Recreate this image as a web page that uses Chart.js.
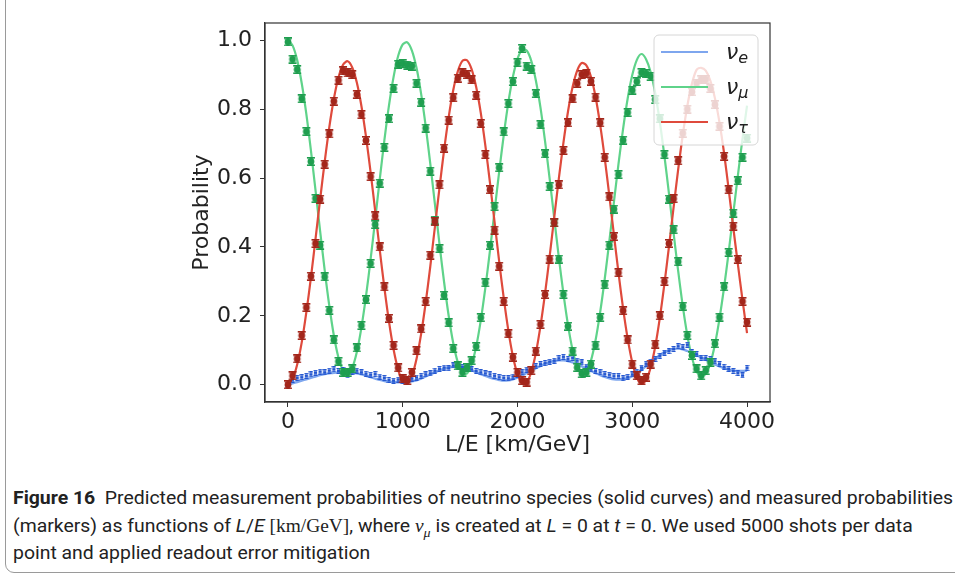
<!DOCTYPE html>
<html>
<head>
<meta charset="utf-8">
<script src="https://cdn.jsdelivr.net/npm/chart.js@4.4.1/dist/chart.umd.min.js"></script>
<style>
  body { margin: 0; background: #fff; width: 955px; height: 579px; overflow: hidden; position: relative; }
  #frame { position: absolute; left: 5px; top: -10px; width: 1000px; height: 583px; border: 1px solid #9a9a9a; border-radius: 9px; box-sizing: border-box; }
  #chart { position: absolute; left: 0; top: 0; }
  .cap { position: absolute; left: 13px; white-space: nowrap; font-family: "Liberation Sans Narrow", Roboto, sans-serif; font-size: 18px; color: #222; transform-origin: 0 50%; line-height: 26px; }
  .cap b { font-weight: 700; }
  .serif { font-family: "Liberation Serif", serif; }
</style>
</head>
<body>
<div id="frame"></div>
<canvas id="chart" width="955" height="470"></canvas>
<div class="cap" style="top:485px"><b>Figure 16</b>&nbsp; Predicted measurement probabilities of neutrino species (solid curves) and measured probabilities</div>
<div class="cap" style="top:513px">(markers) as functions of <i>L</i>/<i>E</i> <span class="serif">[km/GeV]</span>, where <span class="serif"><i>ν</i><sub style="font-size:13px"><i>μ</i></sub></span> is created at <i>L</i> = 0 at <i>t</i> = 0. We used 5000 shots per data</div>
<div class="cap" style="top:540px">point and applied readout error mitigation</div>
<script>
// L/E values [km/GeV]
const lE = [0,40,80,120,160,200,240,280,320,360,400,440,480,520,560,600,640,680,720,760,800,840,880,920,960,1000,1040,1080,1120,1160,1200,1240,1280,1320,1360,1400,1440,1480,1520,1560,1600,1640,1680,1720,1760,1800,1840,1880,1920,1960,2000,2040,2080,2120,2160,2200,2240,2280,2320,2360,2400,2440,2480,2520,2560,2600,2640,2680,2720,2760,2800,2840,2880,2920,2960,3000,3040,3080,3120,3160,3200,3240,3280,3320,3360,3400,3440,3480,3520,3560,3600,3640,3680,3720,3760,3800,3840,3880,3920,3960,4000];

// predicted curves
const pECurve = [0.000,0.004,0.008,0.012,0.016,0.020,0.024,0.028,0.031,0.033,0.035,0.036,0.036,0.036,0.035,0.033,0.030,0.026,0.022,0.018,0.014,0.011,0.009,0.008,0.007,0.007,0.008,0.010,0.013,0.018,0.024,0.030,0.036,0.042,0.047,0.050,0.052,0.052,0.051,0.047,0.042,0.037,0.031,0.026,0.021,0.017,0.014,0.012,0.013,0.016,0.021,0.027,0.034,0.041,0.048,0.055,0.061,0.066,0.069,0.071,0.071,0.069,0.065,0.060,0.054,0.047,0.040,0.034,0.028,0.023,0.019,0.016,0.015,0.016,0.019,0.025,0.033,0.043,0.054,0.065,0.076,0.086,0.094,0.100,0.104,0.105,0.103,0.098,0.092,0.086,0.080,0.073,0.066,0.059,0.053,0.048,0.044,0.041,0.040,0.040,0.041];
const pMuCurve = [1.000,0.985,0.943,0.875,0.786,0.680,0.565,0.447,0.333,0.230,0.143,0.079,0.041,0.030,0.049,0.095,0.166,0.257,0.364,0.479,0.597,0.709,0.810,0.893,0.954,0.988,0.994,0.970,0.920,0.845,0.751,0.642,0.526,0.409,0.299,0.201,0.121,0.065,0.035,0.033,0.059,0.111,0.187,0.282,0.389,0.504,0.617,0.724,0.819,0.894,0.946,0.972,0.970,0.940,0.883,0.805,0.707,0.598,0.484,0.370,0.265,0.173,0.101,0.053,0.031,0.037,0.070,0.129,0.210,0.307,0.416,0.530,0.641,0.743,0.831,0.899,0.943,0.960,0.945,0.908,0.846,0.763,0.664,0.554,0.440,0.330,0.228,0.143,0.079,0.039,0.025,0.032,0.062,0.117,0.192,0.283,0.385,0.497,0.607,0.713,0.810];
const pTauCurve = [0.000,0.017,0.058,0.123,0.210,0.311,0.423,0.537,0.647,0.747,0.830,0.892,0.929,0.939,0.921,0.877,0.809,0.720,0.617,0.505,0.391,0.282,0.184,0.103,0.044,0.010,0.004,0.026,0.075,0.147,0.238,0.343,0.457,0.571,0.680,0.776,0.855,0.910,0.940,0.942,0.916,0.864,0.789,0.694,0.587,0.473,0.359,0.252,0.158,0.083,0.031,0.005,0.007,0.037,0.092,0.170,0.265,0.373,0.486,0.598,0.702,0.793,0.864,0.912,0.934,0.927,0.894,0.836,0.755,0.658,0.549,0.436,0.325,0.222,0.134,0.065,0.021,0.003,0.013,0.050,0.111,0.194,0.293,0.402,0.515,0.625,0.725,0.810,0.874,0.914,0.920,0.912,0.883,0.832,0.761,0.672,0.567,0.457,0.350,0.247,0.150];

// measured (markers)
const pEMeas = [0.000,0.015,0.020,0.022,0.026,0.030,0.035,0.038,0.036,0.041,0.045,0.040,0.043,0.027,0.038,0.041,0.036,0.032,0.029,0.031,0.024,0.020,0.014,0.012,0.015,0.011,0.016,0.018,0.021,0.026,0.030,0.033,0.041,0.046,0.050,0.048,0.056,0.058,0.052,0.049,0.045,0.040,0.036,0.033,0.030,0.026,0.022,0.020,0.019,0.024,0.029,0.036,0.044,0.047,0.054,0.060,0.063,0.067,0.070,0.077,0.081,0.075,0.078,0.070,0.065,0.053,0.045,0.040,0.036,0.031,0.029,0.025,0.026,0.019,0.023,0.030,0.038,0.050,0.061,0.067,0.075,0.084,0.093,0.098,0.104,0.112,0.109,0.116,0.095,0.089,0.078,0.078,0.075,0.068,0.060,0.052,0.046,0.040,0.034,0.027,0.049];
const pMuMeas = [0.995,0.945,0.915,0.830,0.735,0.648,0.541,0.405,0.313,0.216,0.130,0.068,0.036,0.036,0.046,0.107,0.172,0.247,0.352,0.465,0.585,0.689,0.772,0.860,0.930,0.932,0.928,0.925,0.875,0.820,0.745,0.620,0.478,0.395,0.260,0.180,0.105,0.055,0.036,0.050,0.070,0.111,0.195,0.296,0.405,0.517,0.630,0.734,0.816,0.880,0.935,0.976,0.925,0.915,0.845,0.755,0.670,0.575,0.470,0.365,0.262,0.170,0.098,0.050,0.032,0.036,0.060,0.115,0.195,0.290,0.405,0.510,0.610,0.710,0.790,0.855,0.880,0.906,0.903,0.895,0.828,0.772,0.668,0.539,0.450,0.357,0.228,0.143,0.085,0.046,0.026,0.041,0.065,0.119,0.196,0.284,0.384,0.498,0.592,0.660,0.716];
const pTauMeas = [0.000,0.026,0.075,0.143,0.224,0.315,0.410,0.539,0.640,0.728,0.823,0.884,0.911,0.905,0.900,0.843,0.784,0.709,0.604,0.490,0.400,0.284,0.193,0.114,0.049,0.017,0.012,0.036,0.099,0.162,0.242,0.376,0.473,0.580,0.687,0.768,0.833,0.890,0.905,0.900,0.885,0.840,0.758,0.668,0.566,0.449,0.344,0.242,0.148,0.080,0.036,0.012,0.008,0.041,0.098,0.175,0.262,0.365,0.470,0.580,0.680,0.760,0.830,0.875,0.900,0.904,0.881,0.835,0.760,0.660,0.545,0.430,0.325,0.215,0.130,0.060,0.026,0.012,0.022,0.060,0.118,0.200,0.300,0.410,0.540,0.650,0.730,0.800,0.850,0.875,0.885,0.886,0.860,0.813,0.750,0.663,0.566,0.460,0.364,0.242,0.182];

const xTicks = [0, 1000, 2000, 3000, 4000];
const yTicks = [0.0, 0.2, 0.4, 0.6, 0.8, 1.0];
const legendSubs = ['e', 'μ', 'τ'];

const lineColors = ['#7ea6ee', '#5fd38a', '#df4a3c'];
const markColors = ['#2457d0', '#1f9e4f', '#a3261b'];

// marker with small error-bar caps
function errMarker(color, w, h, square) {
  const c = document.createElement('canvas');
  c.width = w; c.height = h;
  const g = c.getContext('2d');
  g.fillStyle = color;
  if (square) {
    g.fillRect(0.5, 0, w - 1, 1);
    g.fillRect(0.5, h - 1, w - 1, 1);
    g.fillRect(w / 2 - 1.6, h / 2 - 1.6, 3.2, 3.2);
    return c;
  }
  g.fillRect(1, 0, w - 2, 1.6);
  g.fillRect(1, h - 1.6, w - 2, 1.6);
  g.fillRect(w / 2 - 0.6, 0, 1.2, h);
  g.beginPath();
  g.arc(w / 2, h / 2, 3.4, 0, Math.PI * 2);
  g.fill();
  return c;
}

const pts = (ys) => lE.map((x, i) => ({ x: x, y: ys[i] }));

function curve(ys, color, order, width) {
  return { data: pts(ys), borderColor: color, borderWidth: width, pointRadius: 0, tension: 0.3, fill: false, order: order };
}
function marks(ys, color, order, img) {
  return { data: pts(ys), showLine: false, pointStyle: img, pointRadius: 4, borderColor: color, backgroundColor: color, order: order };
}

const frame = {
  id: 'frame',
  afterDatasetsDraw(chart) {
    const { ctx, chartArea: a } = chart;
    ctx.save();
    ctx.strokeStyle = '#333';
    ctx.lineWidth = 1.2;
    ctx.strokeRect(a.left, a.top, a.right - a.left, a.bottom - a.top);

    // legend
    const x = a.right - 116, y = a.top + 12, w = 104, h = 110;
    ctx.beginPath();
    ctx.roundRect(x, y, w, h, 5);
    ctx.fillStyle = 'rgba(255,255,255,0.8)';
    ctx.fill();
    ctx.strokeStyle = '#d6d6d6';
    ctx.lineWidth = 1;
    ctx.stroke();
    legendSubs.forEach((s, i) => {
      const ly = y + 17 + i * 35;
      ctx.strokeStyle = lineColors[i];
      ctx.lineWidth = 2;
      ctx.beginPath();
      ctx.moveTo(x + 7, ly);
      ctx.lineTo(x + 54, ly);
      ctx.stroke();
      ctx.fillStyle = '#222';
      ctx.font = 'italic 22px "DejaVu Sans"';
      ctx.textBaseline = 'alphabetic';
      ctx.fillText('ν', x + 72, ly + 7);
      const nw = ctx.measureText('ν').width;
      ctx.font = 'italic 16px "DejaVu Sans"';
      ctx.fillText(s, x + 72 + nw, ly + 11);
    });
    ctx.restore();
  }
};

new Chart(document.getElementById('chart').getContext('2d'), {
  type: 'line',
  data: {
    datasets: [
      curve(pECurve, lineColors[0], 6, 2.4),
      curve(pMuCurve, lineColors[1], 5, 2.2),
      curve(pTauCurve, lineColors[2], 4, 2.2),
      marks(pEMeas, markColors[0], 3, errMarker(markColors[0], 5, 6, true)),
      marks(pMuMeas, markColors[1], 2, errMarker(markColors[1], 10, 9, false)),
      marks(pTauMeas, markColors[2], 1, errMarker(markColors[2], 10, 9, false))
    ]
  },
  options: {
    responsive: false,
    animation: false,
    devicePixelRatio: 1,
    layout: { padding: { left: 0, right: 185, top: 23, bottom: 0 } },
    plugins: { legend: { display: false }, tooltip: { enabled: false } },
    scales: {
      x: {
        type: 'linear', min: -200, max: 4200,
        afterBuildTicks: (s) => { s.ticks = xTicks.map(v => ({ value: v })); },
        afterFit: (s) => { s.height = 68; },
        grid: { drawOnChartArea: false, tickLength: 5, tickColor: '#333' },
        border: { color: '#333', width: 1.2 },
        ticks: { color: '#222', padding: 2, font: { family: 'DejaVu Sans', size: 22 }, maxRotation: 0, autoSkip: false, callback: (v) => String(v) },
        title: { display: true, text: 'L/E [km/GeV]', color: '#222', font: { family: 'DejaVu Sans', size: 22 }, padding: { top: 0, bottom: 12 } }
      },
      y: {
        type: 'linear', min: -0.05, max: 1.05,
        afterBuildTicks: (s) => { s.ticks = yTicks.map(v => ({ value: v })); },
        afterFit: (s) => { s.width = 265; },
        grid: { drawOnChartArea: false, tickLength: 5, tickColor: '#333' },
        border: { color: '#333', width: 1.2 },
        ticks: { color: '#222', padding: 8, font: { family: 'DejaVu Sans', size: 22 }, autoSkip: false, callback: (v) => v.toFixed(1) },
        title: { display: true, text: 'Probability', color: '#222', font: { family: 'DejaVu Sans', size: 22 }, padding: { top: 189, bottom: 0 } }
      }
    }
  },
  plugins: [frame]
});

// fit caption lines to the original column width
const caps = document.querySelectorAll('.cap');
const k = 940 / caps[0].getBoundingClientRect().width;
caps.forEach(c => { c.style.transform = 'scaleX(' + k + ')'; });
</script>
</body>
</html>
